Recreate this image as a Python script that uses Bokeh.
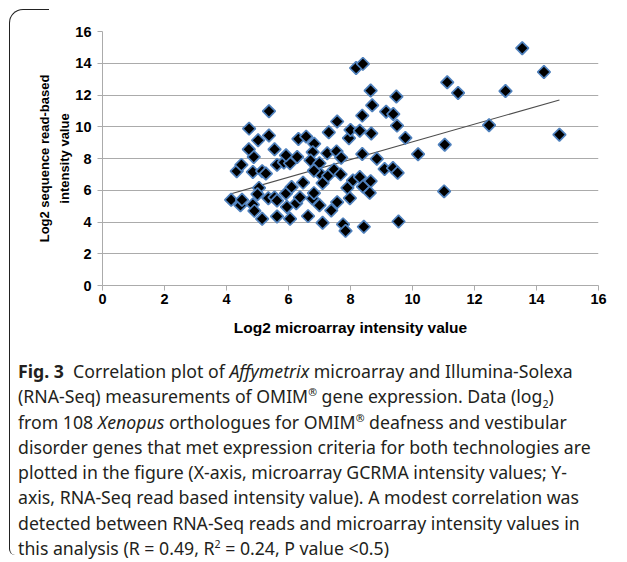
import math
from bokeh.plotting import figure
from bokeh.models import Range1d, FixedTicker, Div, ColumnDataSource
from bokeh.layouts import column, row
from bokeh.embed import file_html
from bokeh.resources import INLINE

# ---- data ----
microarray = [
    4.15, 4.45, 4.50, 4.85, 4.90, 5.15, 5.05, 5.00, 5.35, 5.55, 5.63, 5.63,
    4.33, 4.48, 4.85, 5.15, 5.27, 5.63, 4.88, 4.72, 5.55, 5.02, 5.37, 4.73, 5.37,
    5.85, 6.05, 5.92, 6.28, 6.32, 6.57, 6.83, 6.78, 6.71, 7.00, 7.03, 6.82,
    5.92, 6.10, 5.95, 6.05, 6.25, 6.37, 6.47, 6.63, 6.77, 6.82, 7.00, 7.10,
    7.10, 7.28, 7.25, 7.30,
    7.47, 7.68, 7.55, 7.70, 7.57, 7.95, 8.00, 7.38, 7.57, 7.76, 7.84, 7.90,
    7.98, 8.08,
    8.30, 8.65, 8.40, 8.62, 8.43, 8.38, 8.85, 8.30, 8.67, 8.38, 8.70, 8.65,
    8.18, 8.40,
    9.10, 9.37, 9.52, 9.15, 9.38, 9.50, 9.48, 9.77, 9.55,
    10.18, 11.02, 11.04, 11.12, 11.47, 12.47, 13.00, 13.54, 14.24, 14.74,
]
rnaseq = [
    5.40, 5.05, 5.40, 5.10, 4.70, 4.20, 6.15, 5.75, 5.50, 5.55, 5.35, 4.35,
    7.20, 7.60, 7.15, 7.20, 7.05, 7.60, 8.10, 8.58, 8.58, 9.15, 9.45, 9.88, 10.98,
    7.75, 7.70, 8.20, 8.10, 9.23, 9.38, 8.93, 8.40, 7.88, 7.70, 7.02, 7.23,
    5.80, 6.20, 4.95, 4.20, 5.18, 5.55, 6.48, 4.37, 5.48, 5.82, 5.05, 3.95,
    6.45, 6.92, 8.33, 9.65,
    7.30, 7.00, 8.45, 8.05, 10.33, 9.28, 9.80, 4.73, 5.25, 3.85, 3.44, 6.15,
    5.50, 6.62,
    6.83, 6.57, 6.23, 5.84, 3.70, 8.28, 7.98, 9.75, 9.58, 10.70, 11.35, 12.28,
    13.70, 13.96,
    7.34, 7.40, 7.10, 10.95, 10.80, 10.07, 11.90, 9.30, 4.03,
    8.27, 5.93, 8.87, 12.80, 12.13, 10.10, 12.25, 14.95, 13.45, 9.50,
]
trend_x = [4.18, 14.74]
trend_y = [5.80, 11.69]
tick_values = [0, 2, 4, 6, 8, 10, 12, 14, 16]

x_title = "Log2 microarray intensity value"
y_title = "Log2 sequence read-based\nintensity value"

CHART_FONT = "Liberation Sans"
GRID = "#ababab"
BOX = "1.5px solid #222"

p = figure(width=608, height=321, output_backend="svg", toolbar_location=None,
           x_range=Range1d(0, 16), y_range=Range1d(0, 16),
           min_border_left=90, min_border_right=22, min_border_top=7, min_border_bottom=60)
p.outline_line_color = None
p.background_fill_color = "white"
p.border_fill_color = None

p.line(trend_x, trend_y, line_color="#4d4d4d", line_width=1.1)
src = ColumnDataSource(dict(x=microarray, y=rnaseq))
p.scatter("x", "y", source=src, marker="square", angle=math.pi / 4, size=9,
          fill_color="black", line_color="#4f81bd", line_width=1.7)

for ax in (p.xaxis[0], p.yaxis[0]):
    ax.ticker = FixedTicker(ticks=tick_values)
    ax.axis_line_color = GRID
    ax.major_tick_line_color = GRID
    ax.minor_tick_line_color = None
    ax.major_tick_in = 0
    ax.major_tick_out = 5
    ax.major_label_text_font = CHART_FONT
    ax.major_label_text_font_style = "bold"
    ax.major_label_text_font_size = "14.5px"
    ax.major_label_text_color = "black"
    ax.axis_label_text_font = CHART_FONT
    ax.axis_label_text_font_style = "bold"
    ax.axis_label_text_color = "black"

p.xaxis.axis_label = x_title
p.xaxis.axis_label_text_font_size = "15.5px"
p.xaxis.major_label_standoff = 3
p.xaxis.axis_label_standoff = 12
p.yaxis.axis_label = y_title
p.yaxis.axis_label_text_font_size = "13px"
p.yaxis.major_label_standoff = 6
p.yaxis.axis_label_standoff = 0
p.yaxis.axis_label_text_line_height = 1.38

p.xgrid.grid_line_color = None
p.ygrid.grid_line_color = GRID
p.ygrid.grid_line_width = 1.2

caption_lines = [
    "<b>Fig. 3</b>&nbsp; Correlation plot of <i>Affymetrix</i> microarray and Illumina-Solexa",
    "(RNA-Seq) measurements of OMIM<sup>®</sup> gene expression. Data (log<sub>2</sub>)",
    "from 108 <i>Xenopus</i> orthologues for OMIM<sup>®</sup> deafness and vestibular",
    "disorder genes that met expression criteria for both technologies are",
    "plotted in the figure (X-axis, microarray GCRMA intensity values; Y-",
    "axis, RNA-Seq read based intensity value). A modest correlation was",
    "detected between RNA-Seq reads and microarray intensity values in",
    "this analysis (R = 0.49, R<sup>2</sup> = 0.24, P value &lt;0.5)",
]
html = (
    '<div style="font-family:\'Noto Sans\';font-size:17.7px;line-height:25.3px;'
    'color:#231f20;white-space:nowrap;padding:14px 0 0 6px;">'
    + "<br>".join(caption_lines)
    + "</div>"
)
html = html.replace("<sup>", '<sup style="font-size:0.6em;line-height:0;">').replace(
    "<sub>", '<sub style="font-size:0.6em;line-height:0;">')
cap = Div(text=html, width=608, height=217, margin=0)

# frame of the figure panel: rounded top-left corner, left and top rules
left_rule = Div(width=12, height=562, margin=0, text=(
    f'<div style="margin:9px 0 0 9px;width:40px;height:546px;box-sizing:border-box;'
    f'border-left:{BOX};border-top:{BOX};border-top-left-radius:14px;'
    f'border-bottom-left-radius:6px;"></div>'))
top_rule = Div(width=615, height=24, margin=0, text=(
    f'<div style="margin-top:9px;height:10px;border-top:{BOX};"></div>'))

layout = row(left_rule, column(top_rule, p, cap, spacing=0), spacing=0)

open("out.html", "w").write(file_html(layout, INLINE))
